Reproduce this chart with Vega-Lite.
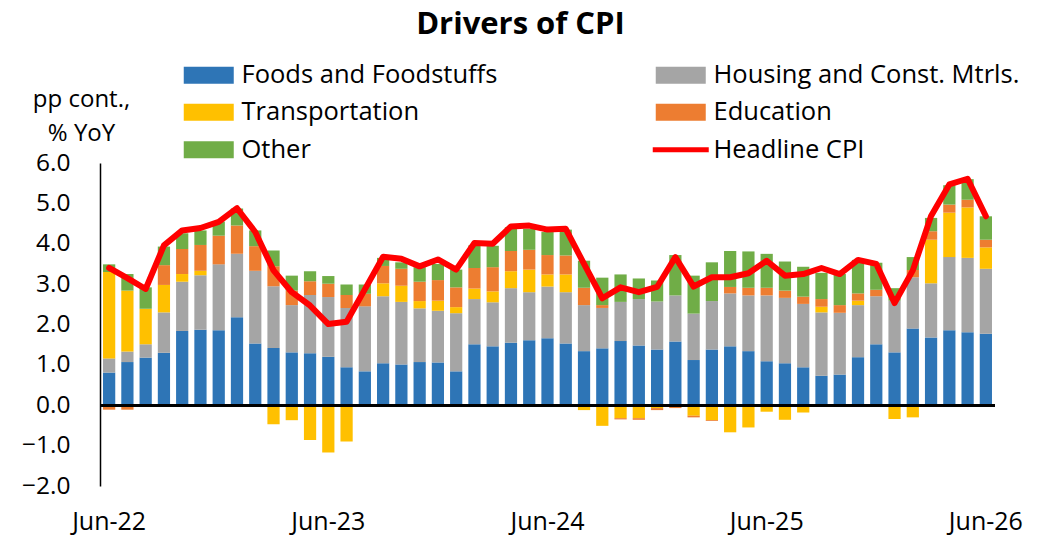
{
  "$schema": "https://vega.github.io/schema/vega-lite/v6.json",
  "autosize": {"type": "none"},
  "width": 895,
  "height": 323,
  "padding": {"left": 100, "top": 163, "right": 55, "bottom": 51},
  "background": "white",
  "config": {"view": {"stroke": null}, "font": "Open Sans"},
  "title": {"text": "Drivers of CPI", "font": "Open Sans", "fontSize": 31, "fontWeight": "bold", "color": "black", "anchor": "middle", "frame": "group", "dx": -27, "dy": -17},
  "data": {"values": [
    {"m":"Jun-22","s1_food":0.81,"s2_housing":0.35,"s3_transport":2.14,"s4_education":-0.11,"s5_other":0.19,"cpi":3.40},
    {"m":"Jul-22","s1_food":1.07,"s2_housing":0.26,"s3_transport":1.51,"s4_education":-0.11,"s5_other":0.41,"cpi":3.15},
    {"m":"Aug-22","s1_food":1.18,"s2_housing":0.33,"s3_transport":0.88,"s4_education":-0.03,"s5_other":0.53,"cpi":2.88},
    {"m":"Sep-22","s1_food":1.30,"s2_housing":1.00,"s3_transport":0.68,"s4_education":0.49,"s5_other":0.46,"cpi":3.96},
    {"m":"Oct-22","s1_food":1.84,"s2_housing":1.22,"s3_transport":0.19,"s4_education":0.62,"s5_other":0.39,"cpi":4.33},
    {"m":"Nov-22","s1_food":1.87,"s2_housing":1.35,"s3_transport":0.11,"s4_education":0.64,"s5_other":0.36,"cpi":4.39},
    {"m":"Dec-22","s1_food":1.86,"s2_housing":1.63,"s3_transport":0,"s4_education":0.71,"s5_other":0.35,"cpi":4.54},
    {"m":"Jan-23","s1_food":2.18,"s2_housing":1.57,"s3_transport":0,"s4_education":0.70,"s5_other":0.42,"cpi":4.88},
    {"m":"Feb-23","s1_food":1.53,"s2_housing":1.80,"s3_transport":0,"s4_education":0.61,"s5_other":0.39,"cpi":4.29},
    {"m":"Mar-23","s1_food":1.42,"s2_housing":1.53,"s3_transport":-0.47,"s4_education":0.49,"s5_other":0.39,"cpi":3.34},
    {"m":"Apr-23","s1_food":1.31,"s2_housing":1.17,"s3_transport":-0.37,"s4_education":0.36,"s5_other":0.37,"cpi":2.80},
    {"m":"May-23","s1_food":1.29,"s2_housing":1.44,"s3_transport":-0.86,"s4_education":0.34,"s5_other":0.25,"cpi":2.47},
    {"m":"Jun-23","s1_food":1.20,"s2_housing":1.48,"s3_transport":-1.17,"s4_education":0.33,"s5_other":0.19,"cpi":2.01},
    {"m":"Jul-23","s1_food":0.94,"s2_housing":1.47,"s3_transport":-0.90,"s4_education":0.32,"s5_other":0.26,"cpi":2.07},
    {"m":"Aug-23","s1_food":0.84,"s2_housing":1.61,"s3_transport":-0.03,"s4_education":0.31,"s5_other":0.23,"cpi":2.87},
    {"m":"Sep-23","s1_food":1.04,"s2_housing":1.66,"s3_transport":0.32,"s4_education":0.43,"s5_other":0.20,"cpi":3.68},
    {"m":"Oct-23","s1_food":1.01,"s2_housing":1.55,"s3_transport":0.40,"s4_education":0.42,"s5_other":0.16,"cpi":3.63},
    {"m":"Nov-23","s1_food":1.07,"s2_housing":1.33,"s3_transport":0.18,"s4_education":0.48,"s5_other":0.36,"cpi":3.44},
    {"m":"Dec-23","s1_food":1.06,"s2_housing":1.28,"s3_transport":0.25,"s4_education":0.51,"s5_other":0.40,"cpi":3.61},
    {"m":"Jan-24","s1_food":0.84,"s2_housing":1.44,"s3_transport":0.15,"s4_education":0.49,"s5_other":0.44,"cpi":3.36},
    {"m":"Feb-24","s1_food":1.51,"s2_housing":1.12,"s3_transport":0.26,"s4_education":0.51,"s5_other":0.56,"cpi":4.02},
    {"m":"Mar-24","s1_food":1.46,"s2_housing":1.09,"s3_transport":0.27,"s4_education":0.60,"s5_other":0.53,"cpi":4.00},
    {"m":"Apr-24","s1_food":1.55,"s2_housing":1.35,"s3_transport":0.42,"s4_education":0.50,"s5_other":0.59,"cpi":4.43},
    {"m":"May-24","s1_food":1.61,"s2_housing":1.19,"s3_transport":0.56,"s4_education":0.49,"s5_other":0.52,"cpi":4.45},
    {"m":"Jun-24","s1_food":1.66,"s2_housing":1.28,"s3_transport":0.30,"s4_education":0.48,"s5_other":0.57,"cpi":4.35},
    {"m":"Jul-24","s1_food":1.53,"s2_housing":1.27,"s3_transport":0.44,"s4_education":0.47,"s5_other":0.64,"cpi":4.37},
    {"m":"Aug-24","s1_food":1.34,"s2_housing":1.14,"s3_transport":-0.12,"s4_education":0.43,"s5_other":0.67,"cpi":3.50},
    {"m":"Sep-24","s1_food":1.41,"s2_housing":1.00,"s3_transport":-0.51,"s4_education":0.07,"s5_other":0.68,"cpi":2.65},
    {"m":"Oct-24","s1_food":1.59,"s2_housing":0.97,"s3_transport":-0.32,"s4_education":-0.03,"s5_other":0.68,"cpi":2.92},
    {"m":"Nov-24","s1_food":1.48,"s2_housing":1.15,"s3_transport":-0.32,"s4_education":-0.04,"s5_other":0.51,"cpi":2.80},
    {"m":"Dec-24","s1_food":1.38,"s2_housing":1.19,"s3_transport":-0.07,"s4_education":-0.05,"s5_other":0.52,"cpi":2.93},
    {"m":"Jan-25","s1_food":1.58,"s2_housing":1.14,"s3_transport":0,"s4_education":-0.07,"s5_other":1.00,"cpi":3.67},
    {"m":"Feb-25","s1_food":1.12,"s2_housing":1.15,"s3_transport":-0.26,"s4_education":-0.04,"s5_other":0.94,"cpi":2.94},
    {"m":"Mar-25","s1_food":1.38,"s2_housing":1.20,"s3_transport":-0.37,"s4_education":-0.02,"s5_other":0.96,"cpi":3.17},
    {"m":"Apr-25","s1_food":1.46,"s2_housing":1.31,"s3_transport":-0.67,"s4_education":0.16,"s5_other":0.89,"cpi":3.17},
    {"m":"May-25","s1_food":1.34,"s2_housing":1.38,"s3_transport":-0.55,"s4_education":0.19,"s5_other":0.90,"cpi":3.27},
    {"m":"Jun-25","s1_food":1.09,"s2_housing":1.63,"s3_transport":-0.16,"s4_education":0.19,"s5_other":0.84,"cpi":3.58},
    {"m":"Jul-25","s1_food":1.04,"s2_housing":1.62,"s3_transport":-0.36,"s4_education":0.18,"s5_other":0.72,"cpi":3.21},
    {"m":"Aug-25","s1_food":0.94,"s2_housing":1.57,"s3_transport":-0.18,"s4_education":0.18,"s5_other":0.74,"cpi":3.25},
    {"m":"Sep-25","s1_food":0.73,"s2_housing":1.57,"s3_transport":0.14,"s4_education":0.19,"s5_other":0.65,"cpi":3.40},
    {"m":"Oct-25","s1_food":0.76,"s2_housing":1.53,"s3_transport":0,"s4_education":0.19,"s5_other":0.77,"cpi":3.25},
    {"m":"Nov-25","s1_food":1.19,"s2_housing":1.29,"s3_transport":0.11,"s4_education":0.18,"s5_other":0.83,"cpi":3.60},
    {"m":"Dec-25","s1_food":1.51,"s2_housing":1.19,"s3_transport":-0.04,"s4_education":0.16,"s5_other":0.67,"cpi":3.50},
    {"m":"Jan-26","s1_food":1.31,"s2_housing":1.28,"s3_transport":-0.34,"s4_education":0,"s5_other":0.31,"cpi":2.53},
    {"m":"Feb-26","s1_food":1.90,"s2_housing":1.27,"s3_transport":-0.30,"s4_education":0.18,"s5_other":0.32,"cpi":3.34},
    {"m":"Mar-26","s1_food":1.68,"s2_housing":1.34,"s3_transport":1.08,"s4_education":0.21,"s5_other":0.33,"cpi":4.69},
    {"m":"Apr-26","s1_food":1.86,"s2_housing":1.81,"s3_transport":1.10,"s4_education":0.20,"s5_other":0.48,"cpi":5.47},
    {"m":"May-26","s1_food":1.81,"s2_housing":1.84,"s3_transport":1.25,"s4_education":0.19,"s5_other":0.51,"cpi":5.61},
    {"m":"Jun-26","s1_food":1.77,"s2_housing":1.61,"s3_transport":0.53,"s4_education":0.19,"s5_other":0.58,"cpi":4.68}
  ]},
  "encoding": {
    "x": {"field": "m", "type": "ordinal", "sort": null,
      "scale": {"paddingInner": 0.33, "paddingOuter": 0.165},
      "axis": {"title": null, "values": ["Jun-22","Jun-23","Jun-24","Jun-25","Jun-26"], "labelAngle": 0, "domain": false, "ticks": false, "labelPadding": 23, "labelFont": "Open Sans", "labelFontSize": 25, "labelColor": "black"}}
  },
  "layer": [
    {
      "transform": [{"fold": ["s1_food","s2_housing","s3_transport","s4_education","s5_other"], "as": ["series","value"]}],
      "mark": {"type": "bar"},
      "encoding": {
        "y": {"field": "value", "type": "quantitative", "stack": "zero",
          "scale": {"domain": [-2, 6], "nice": false, "zero": false},
          "axis": {"values": [-2,-1,0,1,2,3,4,5,6], "format": ".1f", "grid": false, "ticks": false, "domain": true, "domainColor": "black", "domainWidth": 1.5, "labelPadding": 30, "labelFont": "Open Sans", "labelFontSize": 24.5, "labelColor": "black",
            "title": ["pp cont.,", "% YoY"], "titleAngle": 0, "titleAlign": "center", "titleBaseline": "alphabetic", "titleX": -19, "titleY": -57, "titleFont": "Open Sans", "titleFontSize": 24, "titleFontWeight": "normal", "titleColor": "black", "titleLineHeight": 34}},
        "order": {"field": "series", "type": "nominal", "sort": "ascending"},
        "color": {"field": "series", "type": "nominal",
          "scale": {"domain": ["s1_food","s3_transport","s5_other","s2_housing","s4_education","cpi"], "range": ["#2E75B6","#FFC000","#70AD47","#A5A5A5","#ED7D31","#FF0000"]},
          "legend": {"title": null, "orient": "none", "legendX": 96, "legendY": -101, "columns": 2, "columnPadding": 154, "rowPadding": 10.5, "gridAlign": "each",
            "symbolType": "M-5,-1.7H5V1.7H-5Z", "symbolSize": 100, "symbolStrokeWidth": 0, "symbolOpacity": 1,
            "labelFont": "Open Sans", "labelFontSize": 25.5, "labelColor": "black", "labelOffset": 20, "labelLimit": 400,
            "labelExpr": "{'s1_food':'Foods and Foodstuffs','s2_housing':'Housing and Const. Mtrls.','s3_transport':'Transportation','s4_education':'Education','s5_other':'Other','cpi':'Headline CPI'}[datum.value]",
            "encode": {"symbols": {"update": {"shape": {"signal": "datum.value === 'cpi' ? 'M-5.6,-0.5H5.6V0.5H-5.6Z' : 'M-5,-1.7H5V1.7H-5Z'"}}}}}
        }
      }
    },
    {
      "mark": {"type": "rule", "color": "black", "strokeWidth": 2.5},
      "encoding": {"y": {"datum": 0, "type": "quantitative"}, "x": null}
    },
    {
      "mark": {"type": "line", "color": "#FF0000", "strokeWidth": 6, "strokeJoin": "round", "strokeCap": "round"},
      "encoding": {"y": {"field": "cpi", "type": "quantitative"}}
    }
  ]
}
